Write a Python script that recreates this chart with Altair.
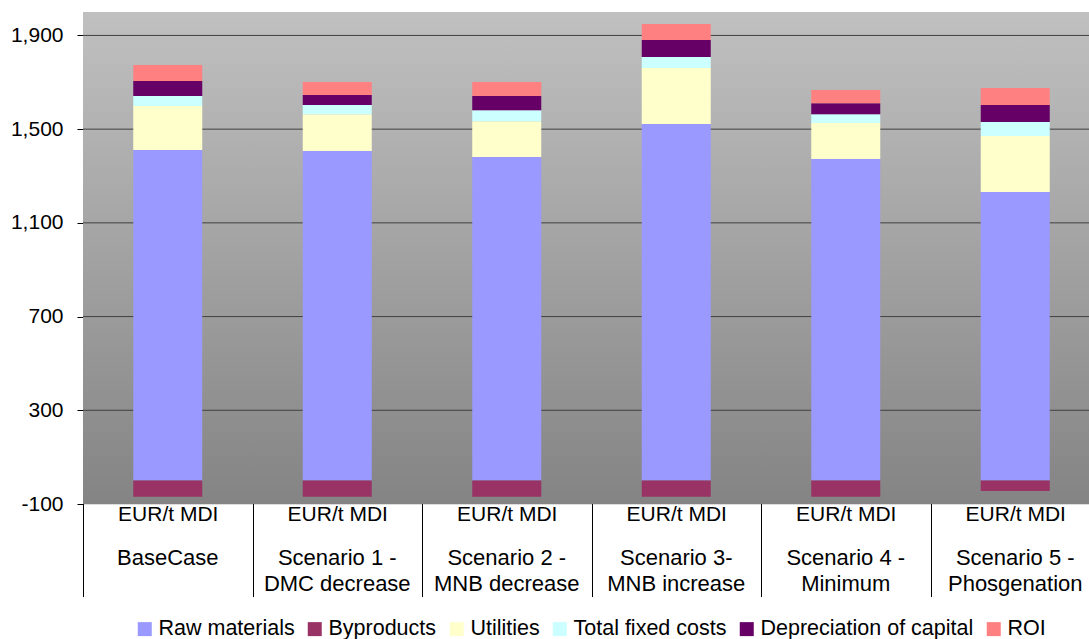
import altair as alt
import pandas as pd

# ---- data ----
unit_label = "EUR/t MDI"
scenario_line1 = ["BaseCase", "Scenario 1 -", "Scenario 2 -", "Scenario 3-", "Scenario 4 -", "Scenario 5 -"]
scenario_line2 = ["", "DMC decrease", "MNB decrease", "MNB increase", "Minimum", "Phosgenation"]

series_names = ["Raw materials", "Byproducts", "Utilities", "Total fixed costs",
                "Depreciation of capital", "ROI"]
series_colors = ["#9999FF", "#993366", "#FFFFCC", "#CCFFFF", "#660066", "#FF8080"]

raw_materials = [1411, 1407, 1381, 1522, 1373, 1232]
byproducts = [-69, -69, -69, -69, -69, -44]
utilities = [188, 157, 153, 239, 153, 239]
fixed_costs = [42, 39, 47, 47, 38, 59]
depreciation = [64, 43, 60, 73, 47, 73]
roi = [69, 55, 60, 68, 56, 73]

y_ticks = [-100, 300, 700, 1100, 1500, 1900]
y_domain = [-100, 2000]

# ---- build tables ----
scenarios = [a + ("|" + b if b else "") for a, b in zip(scenario_line1, scenario_line2)]
series_values = [raw_materials, byproducts, utilities, fixed_costs, depreciation, roi]
rows = []
for si, (name, vals) in enumerate(zip(series_names, series_values)):
    for sc, v in zip(scenarios, vals):
        rows.append({"scenario": sc, "series": name, "value": v, "ord": si})
df = pd.DataFrame(rows)
grid_df = pd.DataFrame({"value": [t for t in y_ticks if t != y_domain[0]]})
bg_df = pd.DataFrame({"dummy": [0]})
names_df = pd.DataFrame({"scenario": scenarios})

FONT = "Liberation Sans"
yscale = alt.Scale(domain=y_domain, nice=False, zero=False)
xscale = alt.Scale(range=[0, 1017], paddingInner=0, paddingOuter=0)

yaxis = alt.Axis(
    title=None, values=y_ticks,
    labelExpr="replace(format(datum.value, ','), '\u2212', '-')",
    domain=True, domainColor="#000000", domainWidth=1,
    ticks=True, tickSize=6, tickColor="#000000",
    labelFont=FONT, labelFontSize=21, labelColor="#000000", labelPadding=14,
    grid=False,
)

xaxis = alt.Axis(
    title=None, orient="bottom", offset=-23.43,
    domain=True, domainColor="#000000", domainWidth=1,
    ticks=True, tickBand="extent", tickSize=116, tickColor="#000000", tickWidth=1,
    labelAngle=0, labelFont=FONT, labelFontSize=21, labelColor="#000000",
    labelPadding=-93, labelBaseline="top",
    labelAlign="center", labelLimit=400, labelOverlap=False,
    labelExpr="datum.label ? '" + unit_label + "' : ''",
)

bg = alt.LinearGradient(
    gradient="linear",
    stops=[alt.GradientStop(color="#C0C0C0", offset=0),
           alt.GradientStop(color="#848484", offset=1)],
    x1=0, x2=0, y1=0, y2=1,
)

background = alt.Chart(bg_df).mark_rect(color=bg).encode(
    x=alt.value(0), x2=alt.value("width"),
    y=alt.value(0), y2=alt.value("height"),
)

grid = alt.Chart(grid_df).mark_rule(color="#404040", strokeWidth=1).encode(
    y=alt.Y("value:Q", scale=yscale, axis=yaxis),
    x=alt.value(0), x2=alt.value("width"),
)

bars = alt.Chart(df).mark_bar(size=69).encode(
    x=alt.X("scenario:N", sort=scenarios, scale=xscale, axis=xaxis),
    y=alt.Y("value:Q", stack="zero", scale=yscale, axis=yaxis),
    color=alt.Color(
        "series:N",
        scale=alt.Scale(domain=series_names, range=series_colors),
        legend=alt.Legend(
            title=None, orient="none", legendX=51, legendY=606,
            direction="horizontal", columns=6,
            symbolType="square", symbolSize=196, symbolStrokeWidth=0,
            labelFont=FONT, labelFontSize=21.5, labelColor="#000000",
            labelOffset=3, columnPadding=9, padding=0, labelLimit=400,
        ),
    ),
    order=alt.Order("ord:Q"),
)

names = alt.Chart(names_df).mark_text(
    font=FONT, fontSize=22, color="#000000", align="center", baseline="top",
    lineBreak="|", lineHeight=26, dy=43.5,
).encode(
    x=alt.X("scenario:N", sort=scenarios, scale=xscale, axis=xaxis),
    y=alt.value("height"),
    text="scenario:N",
)

chart = alt.layer(background, grid, bars, names).properties(
    width=1006,
    height=492,
    autosize=alt.AutoSizeParams(type="none"),
    padding={"left": 83, "top": 12, "right": 0, "bottom": 135},
).configure_view(
    strokeWidth=0,
).configure(
    background="#FFFFFF",
)

chart.save("out.html", embed_options={"renderer": "svg", "actions": False})
